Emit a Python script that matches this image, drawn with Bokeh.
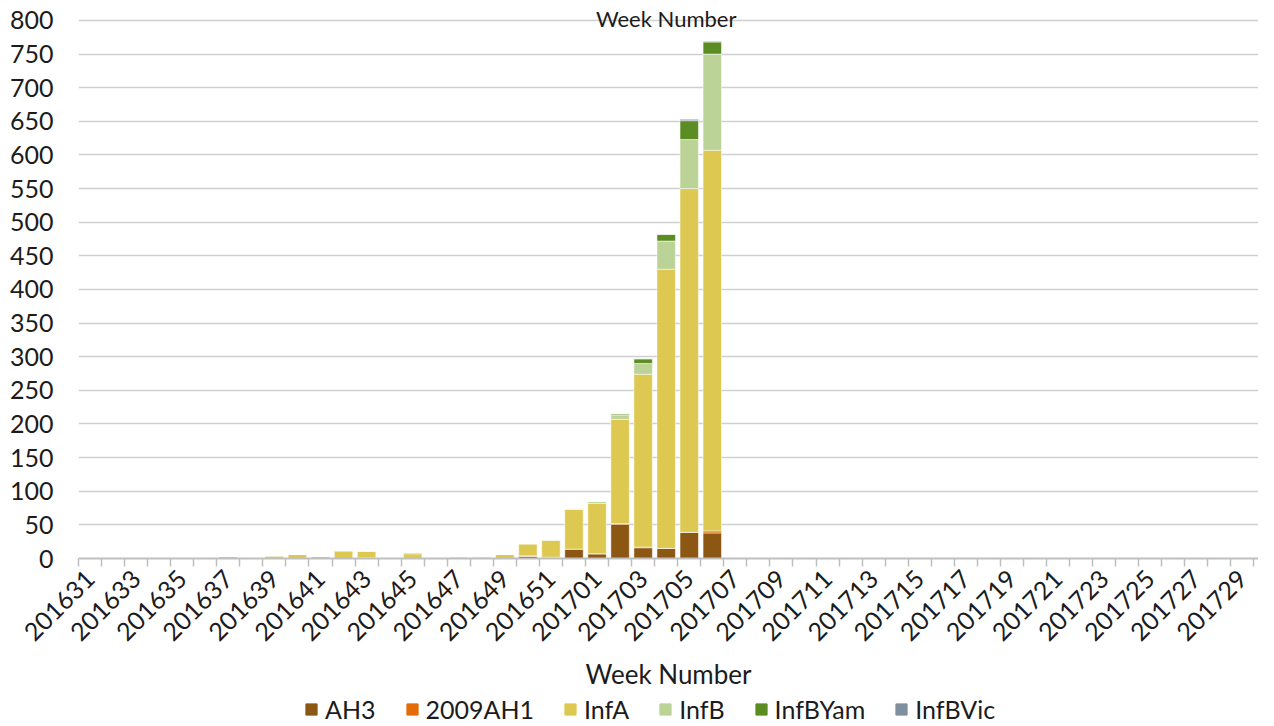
import math
from bokeh.plotting import figure
from bokeh.layouts import column
from bokeh.models import ColumnDataSource, Range1d, FixedTicker, Legend, LegendItem, Label
from bokeh.embed import file_html
from bokeh.resources import INLINE

weeks = ["201631", "201632", "201633", "201634", "201635", "201636", "201637", "201638",
         "201639", "201640", "201641", "201642", "201643", "201644", "201645", "201646",
         "201647", "201648", "201649", "201650", "201651", "201652",
         "201701", "201702", "201703", "201704", "201705", "201706", "201707", "201708",
         "201709", "201710", "201711", "201712", "201713", "201714", "201715", "201716",
         "201717", "201718", "201719", "201720", "201721", "201722", "201723", "201724",
         "201725", "201726", "201727", "201728", "201729", "201730"]

ah3 = [0, 0, 0, 0, 0, 0, 0, 0, 0, 0, 0, 0, 1, 0, 0, 0, 0, 0, 0, 3,
       2, 14, 7, 51, 16, 15, 39, 38, 0, 0, 0, 0, 0, 0, 0, 0, 0, 0, 0, 0,
       0, 0, 0, 0, 0, 0, 0, 0, 0, 0, 0, 0]
ah1_2009 = [0, 0, 0, 0, 0, 0, 0, 0, 0, 0, 0, 0, 0, 0, 0, 0, 0, 0, 0, 1,
            0, 0, 0, 1, 1, 0, 0, 3, 0, 0, 0, 0, 0, 0, 0, 0, 0, 0, 0, 0,
            0, 0, 0, 0, 0, 0, 0, 0, 0, 0, 0, 0]
infa = [0, 0, 0, 0, 0, 0, 0, 0, 4, 6, 3, 11, 10, 0, 7, 2, 2, 2, 6, 18,
        25, 59, 75, 155, 257, 415, 511, 566, 0, 0, 0, 0, 0, 0, 0, 0, 0, 0, 0, 0,
        0, 0, 0, 0, 0, 0, 0, 0, 0, 0, 0, 0]
infb = [0, 0, 0, 0, 0, 0, 3, 0, 0, 0, 0, 1, 0, 0, 2, 0, 1, 1, 0, 0,
        1, 1, 3, 6, 16, 42, 73, 143, 0, 0, 0, 0, 0, 0, 0, 0, 0, 0, 0, 0,
        0, 0, 0, 0, 0, 0, 0, 0, 0, 0, 0, 0]
infbyam = [0, 0, 0, 0, 0, 0, 0, 0, 0, 0, 0, 0, 0, 0, 0, 0, 0, 0, 0, 0,
           0, 0, 0, 2, 7, 10, 28, 18, 0, 0, 0, 0, 0, 0, 0, 0, 0, 0, 0, 0,
           0, 0, 0, 0, 0, 0, 0, 0, 0, 0, 0, 0]
infbvic = [0, 0, 0, 0, 0, 0, 0, 0, 0, 0, 0, 0, 0, 0, 0, 0, 0, 0, 0, 0,
           0, 0, 0, 0, 0, 0, 2, 1, 0, 0, 0, 0, 0, 0, 0, 0, 0, 0, 0, 0,
           0, 0, 0, 0, 0, 0, 0, 0, 0, 0, 0, 0]

series_names = ["AH3", "2009AH1", "InfA", "InfB", "InfBYam", "InfBVic"]
series_keys = ["ah3", "ah1", "infa", "infb", "yam", "vic"]
colors = ["#8C5613", "#E36C09", "#DDC952", "#BBD397", "#5C8D23", "#7F8F9E"]

FONT = "Lato"
TXT = "#1c1c1c"

n = len(weeks)
xs = list(range(n))
source = ColumnDataSource(dict(x=xs, ah3=ah3, ah1=ah1_2009, infa=infa, infb=infb,
                               yam=infbyam, vic=infbvic))

# the frame reaches a little above 800 so the top title has room inside it
p = figure(width=1258, height=694, output_backend="svg", toolbar_location=None,
           x_range=Range1d(-0.5, 50.7), y_range=Range1d(0, 829.7),
           min_border_left=78, min_border_top=0, min_border_right=0, min_border_bottom=136)
p.outline_line_color = None
p.background_fill_color = "white"
p.border_fill_color = None

renderers = p.vbar_stack(series_keys, x="x", width=0.8, color=colors, source=source,
                         line_color="white", line_alpha=0.5, line_width=1)

# y axis
p.yaxis.ticker = FixedTicker(ticks=list(range(0, 801, 50)), minor_ticks=[])
p.yaxis.axis_line_color = None
p.yaxis.major_tick_line_color = None
p.yaxis.minor_tick_line_color = None
p.yaxis.major_tick_in = 0
p.yaxis.major_tick_out = 0
p.yaxis.major_label_standoff = 25
p.yaxis.major_label_text_font = FONT
p.yaxis.major_label_text_font_size = "25px"
p.yaxis.major_label_text_color = TXT
p.ygrid.grid_line_color = "#d0d0d0"
p.ygrid.grid_line_width = 1.5
p.xgrid.grid_line_color = None

# x axis: labels every other week, ticks at category boundaries
label_pos = xs[::2]
boundaries = [i - 0.5 for i in range(n + 1)]
p.xaxis.ticker = FixedTicker(ticks=label_pos, minor_ticks=boundaries)
p.xaxis.major_label_overrides = {i: weeks[i] for i in label_pos}
p.xaxis.major_label_orientation = math.pi / 4
p.xaxis.major_tick_line_color = None
p.xaxis.minor_tick_line_color = "#bfbfbf"
p.xaxis.minor_tick_line_width = 1.5
p.xaxis.minor_tick_in = 0
p.xaxis.minor_tick_out = 8
p.xaxis.major_tick_in = 0
p.xaxis.major_tick_out = 0
p.xaxis.axis_line_color = "#bfbfbf"
p.xaxis.axis_line_width = 2
p.xaxis.major_label_standoff = 8
p.xaxis.major_label_text_font = FONT
p.xaxis.major_label_text_font_size = "25px"
p.xaxis.major_label_text_color = TXT
p.xaxis.axis_label = "Week Number"
p.xaxis.axis_label_text_font = FONT
p.xaxis.axis_label_text_font_size = "26px"
p.xaxis.axis_label_text_font_style = "normal"
p.xaxis.axis_label_text_color = TXT
p.xaxis.axis_label_standoff = 6

# top title, just above the top gridline
p.add_layout(Label(x=25.0, y=803.5, text="Week Number", text_align="center",
                   text_baseline="alphabetic", text_font=FONT, text_font_size="22px",
                   text_color=TXT))

# legend in its own strip below the chart
pl = figure(width=1258, height=30, output_backend="svg", toolbar_location=None,
            x_range=Range1d(0, 1), y_range=Range1d(0, 1),
            x_axis_location=None, y_axis_location=None,
            min_border_left=0, min_border_right=0, min_border_top=0, min_border_bottom=0)
pl.outline_line_color = None
pl.grid.visible = False
pl.border_fill_color = None
dummies = [pl.vbar(x=[5], top=[1], width=0.5, color=c) for c in colors]
legend = Legend(items=[LegendItem(label=nm, renderers=[r]) for nm, r in zip(series_names, dummies)],
                orientation="horizontal", location=(226, 0),
                glyph_width=14, glyph_height=14, label_standoff=7, spacing=29,
                label_text_font=FONT, label_text_font_size="25px", label_text_color=TXT,
                border_line_color=None, background_fill_alpha=0, padding=0, margin=0)
pl.add_layout(legend, "center")

layout = column(p, pl, spacing=0)
open("out.html", "w").write(file_html(layout, INLINE))
